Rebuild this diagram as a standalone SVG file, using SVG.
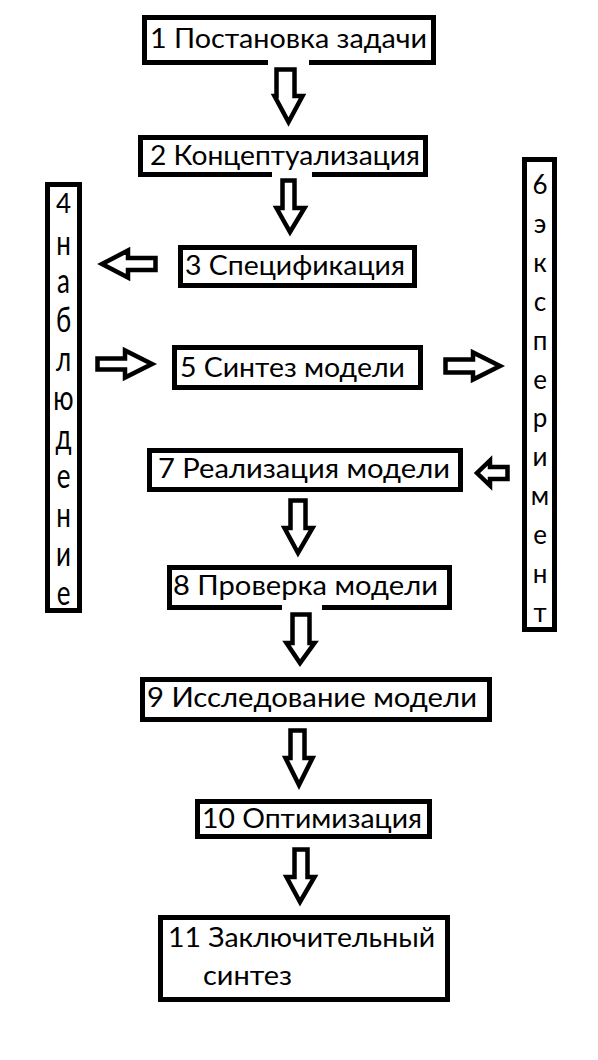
<svg xmlns="http://www.w3.org/2000/svg" width="598" height="1060" viewBox="0 0 598 1060">
<style>
.box{fill:#fff;stroke:#000;stroke-width:5}
.arr{fill:#fff;stroke:#000;stroke-width:4.5;stroke-linejoin:miter;stroke-miterlimit:10}
.gap{fill:#fff;stroke:none}
text{font-family:Lato,"Open Sans","Liberation Sans",sans-serif;font-size:26px;fill:#000}
.v{text-anchor:middle}
</style>
<rect width="598" height="1060" fill="#fff"/>
<g id="n1"><rect class="box" x="144.5" y="17.5" width="289" height="45"/><text x="150" y="48" textLength="277" lengthAdjust="spacingAndGlyphs">1 Постановка задачи</text></g>
<g id="n2"><rect class="box" x="140.5" y="137.5" width="285" height="37"/><text x="150" y="165" textLength="270" lengthAdjust="spacingAndGlyphs">2 Концептуализация</text></g>
<g id="n3"><rect class="box" x="180.5" y="247.5" width="234" height="38"/><text x="185" y="275" textLength="220" lengthAdjust="spacingAndGlyphs">3 Спецификация</text></g>
<g id="n4"><rect class="box" x="47.5" y="184.5" width="32" height="426"/>
<text class="v" x="63.5" y="213">4</text>
<text class="v" transform="translate(63.5,255) scale(1,1.3)">н</text>
<text class="v" transform="translate(63.5,293) scale(1,1.3)">а</text>
<text class="v" transform="translate(63.5,332) scale(1,1.3)">б</text>
<text class="v" transform="translate(63.5,371) scale(1,1.3)">л</text>
<text class="v" transform="translate(63.5,410) scale(1,1.3)">ю</text>
<text class="v" transform="translate(63.5,449) scale(1,1.3)">д</text>
<text class="v" transform="translate(63.5,488) scale(1,1.3)">е</text>
<text class="v" transform="translate(63.5,527) scale(1,1.3)">н</text>
<text class="v" transform="translate(63.5,566) scale(1,1.3)">и</text>
<text class="v" transform="translate(63.5,605) scale(1,1.3)">е</text>
</g>
<g id="n5"><rect class="box" x="174.5" y="347.5" width="246" height="40"/><text x="180" y="377" textLength="225" lengthAdjust="spacingAndGlyphs">5 Синтез модели</text></g>
<g id="n6"><rect class="box" x="524.5" y="159.5" width="30" height="470"/>
<text class="v" x="540" y="194">6</text>
<text class="v" x="540" y="233">э</text>
<text class="v" x="540" y="272">к</text>
<text class="v" x="540" y="311">с</text>
<text class="v" x="540" y="350">п</text>
<text class="v" x="540" y="389">е</text>
<text class="v" x="540" y="427">р</text>
<text class="v" x="540" y="466">и</text>
<text class="v" x="540" y="505">м</text>
<text class="v" x="540" y="544">е</text>
<text class="v" x="540" y="583">н</text>
<text class="v" x="540" y="622">т</text>
</g>
<g id="n7"><rect class="box" x="149.5" y="450.5" width="311" height="39"/><text x="158" y="478" textLength="292" lengthAdjust="spacingAndGlyphs">7 Реализация модели</text></g>
<g id="n8"><rect class="box" x="169.5" y="567.5" width="280" height="40"/><text x="173" y="595" textLength="265" lengthAdjust="spacingAndGlyphs">8 Проверка модели</text></g>
<g id="n9"><rect class="box" x="142.5" y="679.5" width="347" height="40"/><text x="147" y="707" textLength="330" lengthAdjust="spacingAndGlyphs">9 Исследование модели</text></g>
<g id="n10"><rect class="box" x="197.5" y="801.5" width="232" height="35"/><text x="202" y="828" textLength="220" lengthAdjust="spacingAndGlyphs">10 Оптимизация</text></g>
<g id="n11"><rect class="box" x="160.5" y="917.5" width="287" height="82"/><text x="168" y="947" textLength="267" lengthAdjust="spacingAndGlyphs">11 Заключительный</text><text x="203" y="985" textLength="89" lengthAdjust="spacingAndGlyphs">синтез</text></g>
<g id="connectors">
<rect class="gap" x="268" y="59.5" width="41" height="6"/>
<rect class="gap" x="272" y="171.5" width="40" height="6"/>
<rect class="gap" x="282" y="604.5" width="40" height="6"/>
<polygon class="arr" points="276.5,69.5 294.5,69.5 294.5,96 302.5,96 288.5,122 274.5,96 276.5,96"/>
<polygon class="arr" points="282.5,180.5 294.5,180.5 294.5,208 304.5,208 290,232 276.5,208 282.5,208"/>
<polygon class="arr" points="155.5,258 155.5,270 128,270 128,277.5 102,264 128,250.5 128,258"/>
<polygon class="arr" points="97.5,358.5 125,358.5 125,350.5 152,364 125,377.5 125,369.5 97.5,369.5"/>
<polygon class="arr" points="445.5,359.5 473,359.5 473,352.5 500,366 473,379.5 473,372.5 445.5,372.5"/>
<polygon class="arr" points="507.5,467 507.5,479 490,479 490,485.5 477,473 490,460.5 490,467"/>
<polygon class="arr" points="290.5,500.5 305.5,500.5 305.5,528 312.5,528 298,553 284.5,528 290.5,528"/>
<polygon class="arr" points="292.5,614.5 309.5,614.5 309.5,643 314.5,643 300,663 286.5,643 292.5,643"/>
<polygon class="arr" points="290.5,730.5 304.5,730.5 304.5,758 312.5,758 299,785 285.5,758 290.5,758"/>
<polygon class="arr" points="294.5,849.5 307.5,849.5 307.5,877 314.5,877 300,902 286.5,877 294.5,877"/>
</g>
</svg>
